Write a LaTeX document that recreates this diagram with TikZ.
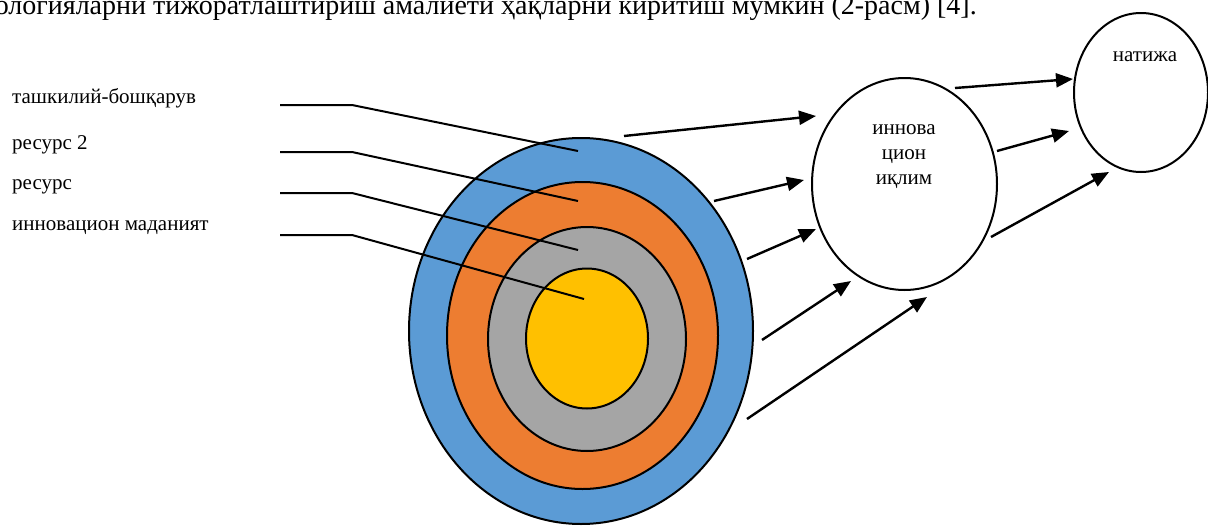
\documentclass[tikz,border=0pt]{standalone}
\usepackage{fontspec}
\setmainfont{Liberation Serif}
\usetikzlibrary{shapes.geometric,arrows.meta}
\definecolor{cblue}{HTML}{5B9BD5}
\definecolor{corange}{HTML}{ED7D31}
\definecolor{cgray}{HTML}{A5A5A5}
\definecolor{cyellow}{HTML}{FFC000}
\begin{document}
\begin{tikzpicture}[x=1pt,y=-1pt,
  ring/.style={ellipse,draw=black,line width=2pt,inner sep=0pt},
  lab/.style={anchor=west,inner sep=0pt,font=\fontsize{21}{25}\selectfont},
  lead/.style={line width=2pt},
  arr/.style={line width=2.4pt,-{Triangle[length=17pt,width=14pt]}},
  intext/.style={inner sep=0pt,font=\fontsize{21}{25}\selectfont,align=center}]
\useasboundingbox (0,0) rectangle (1208,525);
\clip (0,0) rectangle (1208,525);
\fill[white] (0,0) rectangle (1208,525);
% cut-off text line at top
\node[anchor=base east,inner sep=0pt,font=\fontsize{28}{32}\selectfont] (toptext) at (977,14) {технологияларни тижоратлаштириш амалиёти ҳақларни киритиш мумкин (2-расм) [4].};
% concentric rings
\node[ring,fill=cblue,minimum width=344pt,minimum height=386pt] (blue) at (581,331) {};
\node[ring,fill=corange,minimum width=271pt,minimum height=307pt] (orange) at (582.5,335.5) {};
\node[ring,fill=cgray,minimum width=198pt,minimum height=224pt] (gray) at (587,339) {};
\node[ring,fill=cyellow,minimum width=122pt,minimum height=140pt] (yellow) at (587,338.5) {};
% labels
\node[lab] (l1) at (12,98) {ташкилий-бошқарув};
\node[lab] (l2) at (12,145) {ресурс 2};
\node[lab] (l3) at (12,187) {ресурс};
\node[lab] (l4) at (12,228) {инновацион маданият};
% leader lines
\coordinate (s1) at (280,105); \coordinate (k1) at (352,105); \coordinate (e1) at (578,151);
\coordinate (s2) at (280,152); \coordinate (k2) at (352,152); \coordinate (e2) at (578,201);
\coordinate (s3) at (280,193); \coordinate (k3) at (352,193); \coordinate (e3) at (578,250);
\coordinate (s4) at (280,235); \coordinate (k4) at (352,235); \coordinate (e4) at (584,299);
\draw[lead] (s1) -- (k1) -- (e1);
\draw[lead] (s2) -- (k2) -- (e2);
\draw[lead] (s3) -- (k3) -- (e3);
\draw[lead] (s4) -- (k4) -- (e4);
% climate ellipse
\node[ring,minimum width=185pt,minimum height=212pt] (climate) at (904.5,184) {};
\node[intext] (climtext) at (904,157) {иннова\\цион\\иқлим};
% result ellipse
\node[ring,minimum width=134pt,minimum height=159pt] (result) at (1141,92.5) {};
\node[intext] (restext) at (1145,57) {натижа};
% arrows to climate
\coordinate (a1) at (624,136); \coordinate (b1) at (816,116);
\coordinate (a2) at (714,201); \coordinate (b2) at (804,180);
\coordinate (a3) at (747,259); \coordinate (b3) at (816,229);
\coordinate (a4) at (762,340); \coordinate (b4) at (851,281);
\coordinate (a5) at (747,419); \coordinate (b5) at (927,297);
\draw[arr] (a1) -- (b1);
\draw[arr] (a2) -- (b2);
\draw[arr] (a3) -- (b3);
\draw[arr] (a4) -- (b4);
\draw[arr] (a5) -- (b5);
% arrows to result
\coordinate (c1) at (955,88); \coordinate (d1) at (1073,79);
\coordinate (c2) at (997,151); \coordinate (d2) at (1069,131);
\coordinate (c3) at (991,237); \coordinate (d3) at (1109,172);
\draw[arr] (c1) -- (d1);
\draw[arr] (c2) -- (d2);
\draw[arr] (c3) -- (d3);
\end{tikzpicture}
\end{document}
